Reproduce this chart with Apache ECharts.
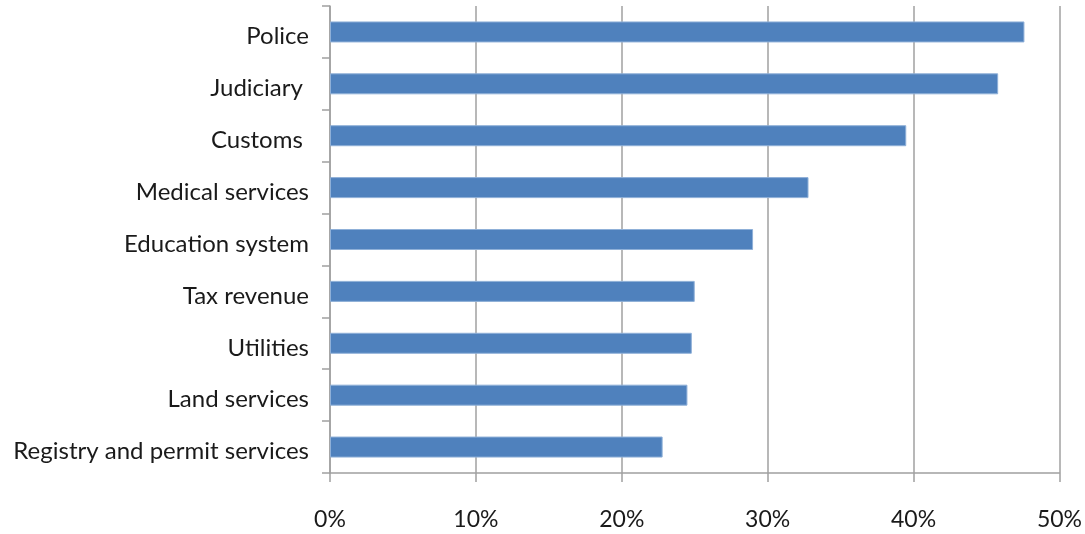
<!DOCTYPE html>
<html>
<head>
<meta charset="utf-8">
<script src="https://cdn.jsdelivr.net/npm/echarts@6/dist/echarts.min.js"></script>
<style>
  html, body { margin: 0; padding: 0; background: #fff; }
  #chart { width: 1085px; height: 534px; }
</style>
</head>
<body>
<div id="chart"></div>
<script>
// categories listed bottom to top (category axis on y starts at bottom)
const categories = [
  "Registry and permit services",
  "Land services",
  "Utilities",
  "Tax revenue",
  "Education system",
  "Medical services",
  "Customs ",
  "Judiciary ",
  "Police"
];
const shares = [22.8, 24.5, 24.8, 25.0, 29.0, 32.8, 39.5, 45.8, 47.6];

const chart = echarts.init(document.getElementById("chart"));
const option = {
  animation: false,
  grid: { left: 330, right: 25, top: 6, bottom: 61, containLabel: false },
  xAxis: {
    type: "value",
    min: 0,
    max: 50,
    interval: 10,
    axisLine: { show: true, lineStyle: { color: "#a0a0a0", width: 1.5 } },
    axisTick: { show: true, length: 9, lineStyle: { color: "#a0a0a0", width: 1.5 } },
    splitLine: { show: true, lineStyle: { color: "#a0a0a0", width: 1.5 } },
    axisLabel: {
      formatter: "{value}%",
      margin: 35,
      color: "#1a1a1a",
      fontSize: 23,
      fontFamily: "Lato"
    }
  },
  yAxis: {
    type: "category",
    data: categories,
    axisLine: { show: true, lineStyle: { color: "#a0a0a0", width: 1.5 } },
    axisTick: { show: true, length: 8, lineStyle: { color: "#a0a0a0", width: 1.5 } },
    axisLabel: {
      margin: 21,
      color: "#1a1a1a",
      fontSize: 24,
      fontFamily: "Lato",
      // push the text a few px below the band centre, like the original
      verticalAlign: "top",
      lineHeight: 9
    }
  },
  series: [{
    type: "bar",
    data: shares,
    barWidth: 21,
    itemStyle: { color: "#4f81bd", borderColor: "#8fb0d8", borderWidth: 1 }
  }]
};
chart.setOption(option);
</script>
</body>
</html>
